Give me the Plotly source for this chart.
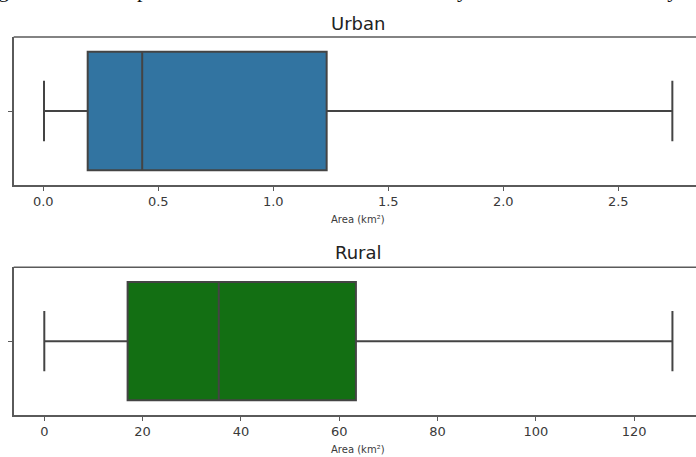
import plotly.graph_objects as go

# Summary statistics of parcel area (km²) per settlement type
groups = ["Urban", "Rural"]
lower_whisker = [0.003, 0.0]
q1_values = [0.193, 16.95]
median_values = [0.430, 35.5]
q3_values = [1.232, 63.4]
upper_whisker = [2.735, 127.8]

urban_ticks = [0.0, 0.5, 1.0, 1.5, 2.0, 2.5]
urban_ticktext = ["0.0", "0.5", "1.0", "1.5", "2.0", "2.5"]
rural_ticks = [0, 20, 40, 60, 80, 100, 120]
rural_ticktext = ["0", "20", "40", "60", "80", "100", "120"]

box_colors = ["#3274a1", "#136f13"]
x_label = "Area (km²)"
caption = "gure 3. The boxplot of the areas in urban and rural by land use in of the study area"

W, H = 696, 457
FONT = "DejaVu Sans"
EDGE = "#444444"
SPINE = "#5a5a5a"

fig = go.Figure()
axis_ids = [("x", "y"), ("x2", "y2")]
for i, (xa, ya) in enumerate(axis_ids):
    fig.add_trace(go.Box(
        orientation="h",
        y=[0],
        q1=[q1_values[i]],
        median=[median_values[i]],
        q3=[q3_values[i]],
        lowerfence=[lower_whisker[i]],
        upperfence=[upper_whisker[i]],
        width=0.8,
        whiskerwidth=0.51,
        fillcolor=box_colors[i],
        line=dict(color=EDGE, width=2),
        boxpoints=False,
        name=groups[i],
        showlegend=False,
        hoverinfo="skip",
        xaxis=xa,
        yaxis=ya,
    ))

def px_x(v):
    return v / W

def px_y(v):
    return 1 - v / H

common_x = dict(
    showgrid=False, zeroline=False, showline=True, linecolor=SPINE, linewidth=1.5,
    ticks="outside", ticklen=4, tickwidth=1.2, tickcolor=SPINE,
    tickfont=dict(family=FONT, size=13, color="#3a3a3a"),
)
common_y = dict(
    showgrid=False, zeroline=False, showline=True, linecolor=SPINE, linewidth=1.5,
    ticks="outside", ticklen=4, tickwidth=1.2, tickcolor=SPINE,
    range=[-0.5, 0.5], tickvals=[0], ticktext=[""], fixedrange=True,
)

# Urban panel: left spine at x=13.7px, zero at 43.3px, 230 px per km²
u0, uscale = 43.3, 230.0
# Rural panel: zero at 44.3px, 4.915 px per km²
r0, rscale = 44.3, 4.915
left = 13.7

fig.update_layout(
    width=W, height=H,
    margin=dict(l=0, r=0, t=0, b=0),
    paper_bgcolor="white", plot_bgcolor="white",
    font=dict(family=FONT),
    xaxis=dict(common_x, domain=[px_x(left), 1], anchor="y",
               range=[(left - u0) / uscale, (W - u0) / uscale],
               tickvals=urban_ticks, ticktext=urban_ticktext),
    yaxis=dict(common_y, domain=[px_y(185), px_y(37)], anchor="x"),
    xaxis2=dict(common_x, domain=[px_x(left), 1], anchor="y2",
                range=[(left - r0) / rscale, (W - r0) / rscale],
                tickvals=rural_ticks, ticktext=rural_ticktext),
    yaxis2=dict(common_y, domain=[px_y(415), px_y(267.3)], anchor="x2"),
)

# Top spines of both panels
for xa, ya in axis_ids:
    fig.add_shape(type="line", xref=f"{xa} domain", yref=f"{ya} domain",
                  x0=0, x1=1, y0=1, y1=1, line=dict(color=SPINE, width=1.5))

# Panel titles
for title, cy in [(groups[0], 23), (groups[1], 253)]:
    fig.add_annotation(text=title, xref="paper", yref="paper", x=px_x(358), y=px_y(cy),
                       xanchor="center", yanchor="middle", showarrow=False,
                       font=dict(family=FONT, size=18, color="#222222"))

# Axis labels
for cy in [219, 449]:
    fig.add_annotation(text=x_label, xref="paper", yref="paper", x=px_x(358), y=px_y(cy),
                       xanchor="center", yanchor="middle", showarrow=False,
                       font=dict(family=FONT, size=10, color="#3a3a3a"))

# Document caption line running off the top edge of the page
fig.add_annotation(text=caption, xref="paper", yref="paper", x=0, y=1,
                   xanchor="left", yanchor="bottom", yshift=-3, xshift=-3,
                   showarrow=False, borderpad=0,
                   font=dict(family="Liberation Serif", size=22, color="#111111"))

fig.write_html("out.html")
